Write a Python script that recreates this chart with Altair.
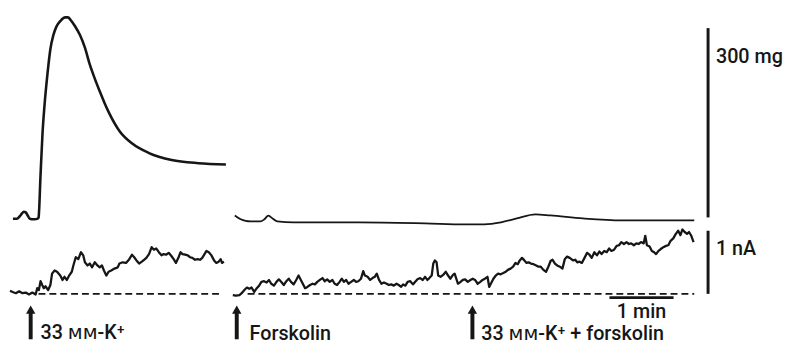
import altair as alt
import pandas as pd

INK = "#161616"
FONT = "Roboto, 'DejaVu Sans', sans-serif"
FONT_WEIGHT = 500

# time: recorder units (65 units = 1 min); tension in mg; current in nA
LEFT_TENSION = [
    (4, -2), (8, -2), (11, 2), (13, 6), (15, 9), (17, 8), (19, 3), (21, -2), (23, -3),
    (26, -3), (29, -2), (30, 0), (32, 67), (34, 133), (36, 177), (39, 227), (42, 267),
    (45, 289), (48, 302), (52, 311), (57, 317), (60, 317), (62, 314), (67, 303), (72, 289),
    (77, 269), (82, 242), (87, 220), (92, 200), (97, 181), (102, 164), (112, 137),
    (125, 117), (142, 102), (165, 91), (192, 86), (220, 84),
]
RIGHT_TENSION = [
    (229, 3), (235, -3), (240, -5.5), (245, -6.3), (255, -6.3), (259, -3), (263, 3),
    (266, 0), (272, -6.3), (289, -7.8), (322, -7.8), (355, -7.8), (422, -9.4),
    (462, -10.9), (482, -10.9), (499, -7.8), (515, -1.6), (534, 4.7), (549, 3.1),
    (582, -1.6), (622, -4.7), (695, -4.7),
]
LEFT_CURRENT = [
    (1, 0.05), (3.7, 0.03), (7, 0.01), (10.3, 0.04), (13.7, 0.01), (17, 0.02), (20.3, -0.01),
    (23.7, 0.02), (27, -0.01), (28.7, 0.09), (30.3, 0.06), (32, 0.20), (33.7, 0.14),
    (35.3, 0.09), (37, 0.12), (39.7, 0.06), (42, 0.14), (43.7, 0.32), (46.3, 0.37),
    (48.7, 0.35), (52, 0.29), (54.3, 0.22), (56.3, 0.27), (58.7, 0.22), (61, 0.29),
    (63.7, 0.35), (65.3, 0.45), (67.7, 0.58), (70.3, 0.55), (73, 0.66), (75.3, 0.61),
    (77, 0.50), (79.7, 0.45), (82, 0.48), (84.3, 0.42), (87, 0.50), (89.7, 0.45),
    (92, 0.42), (94.3, 0.45), (96.3, 0.37), (98.7, 0.29), (101, 0.35), (103.7, 0.37),
    (107, 0.40), (110.3, 0.42), (112, 0.48), (115.3, 0.50), (118.7, 0.49), (122, 0.55),
    (124.7, 0.62), (127, 0.58), (129.3, 0.53), (132, 0.48), (134.7, 0.51), (137, 0.54),
    (139.3, 0.57), (142, 0.63), (144.7, 0.74), (147, 0.70), (149.3, 0.72), (152, 0.66),
    (154.7, 0.61), (157, 0.63), (159.3, 0.62), (162, 0.65), (164.7, 0.60), (167, 0.55),
    (169.3, 0.49), (172, 0.58), (174, 0.66), (176, 0.63), (178.7, 0.62), (181.3, 0.61),
    (183.7, 0.58), (186, 0.57), (188.7, 0.54), (191.3, 0.55), (193.7, 0.54), (196, 0.57),
    (198, 0.62), (200.3, 0.68), (202.7, 0.66), (205.3, 0.61), (208, 0.53), (210.3, 0.49),
    (212.7, 0.51), (214.7, 0.55), (216, 0.49), (218, 0.51),
]
RIGHT_CURRENT = [
    (227, -0.02), (230.3, -0.03), (233.7, -0.02), (236, 0.01), (238.7, 0.06), (241.3, 0.10),
    (243.7, 0.08), (246, 0.10), (248.7, 0.03), (251.3, 0.09), (253.7, 0.13), (256, 0.19),
    (258.7, 0.20), (261.3, 0.18), (263.7, 0.22), (266, 0.16), (268.7, 0.13), (271.3, 0.19),
    (273.7, 0.23), (276, 0.19), (278.7, 0.14), (281.3, 0.20), (283.7, 0.24), (286, 0.19),
    (288.7, 0.15), (291.3, 0.22), (293.7, 0.29), (296, 0.22), (298, 0.16), (300.3, 0.09),
    (302.7, 0.11), (305.3, 0.14), (308, 0.16), (310.3, 0.15), (312.7, 0.19), (315.3, 0.22),
    (318, 0.25), (320.3, 0.20), (322.7, 0.23), (325.3, 0.19), (328, 0.22), (330.3, 0.16),
    (332.7, 0.14), (335.3, 0.19), (337.5, 0.24), (339.7, 0.19), (342, 0.22), (344.3, 0.16),
    (347, 0.19), (349.7, 0.22), (352, 0.19), (354.3, 0.20), (357, 0.24), (359.3, 0.36),
    (361, 0.29), (363.7, 0.27), (366.3, 0.22), (368.7, 0.25), (371, 0.27), (373, 0.32),
    (375.3, 0.22), (377.7, 0.16), (380.3, 0.18), (383, 0.16), (385.3, 0.14), (387.7, 0.15),
    (390.3, 0.13), (393, 0.16), (395.3, 0.14), (397.7, 0.11), (399.7, 0.15), (402, 0.13),
    (404.3, 0.19), (407, 0.20), (409.7, 0.15), (412, 0.19), (414.3, 0.23), (417, 0.25),
    (419.7, 0.22), (422, 0.27), (424.3, 0.22), (426.3, 0.25), (428.7, 0.29), (430.3, 0.48),
    (432, 0.53), (433.7, 0.50), (435.3, 0.29), (437.7, 0.27), (440.3, 0.30), (443, 0.35),
    (445.3, 0.29), (447.7, 0.24), (450.3, 0.30), (452, 0.32), (455.3, 0.16), (458, 0.19),
    (460.3, 0.22), (462.7, 0.23), (465.3, 0.19), (468, 0.22), (470.3, 0.24), (472.7, 0.22),
    (475.3, 0.16), (478, 0.19), (480.3, 0.22), (482.7, 0.24), (485.3, 0.27), (487, 0.11),
    (488.7, 0.16), (491.3, 0.24), (493.7, 0.29), (496, 0.32), (498.7, 0.31), (501.3, 0.33),
    (503.7, 0.35), (506, 0.38), (508.7, 0.40), (511.3, 0.43), (513.7, 0.49), (516, 0.47),
    (518, 0.53), (520.3, 0.57), (522.7, 0.53), (524.7, 0.49), (527, 0.50), (529.3, 0.48),
    (532, 0.47), (534.7, 0.45), (537, 0.43), (539.3, 0.43), (542, 0.38), (544.7, 0.35),
    (547, 0.43), (549.3, 0.52), (551.3, 0.54), (553.7, 0.48), (556, 0.45), (558.7, 0.43),
    (561.3, 0.40), (563.7, 0.55), (566, 0.59), (568.7, 0.57), (572, 0.53), (574.3, 0.54),
    (576.3, 0.50), (578.7, 0.51), (581, 0.49), (583.7, 0.57), (586.3, 0.65), (588.7, 0.62),
    (591, 0.57), (593.7, 0.66), (596.3, 0.61), (598.7, 0.67), (601, 0.63), (603.7, 0.68),
    (606.3, 0.66), (608.7, 0.72), (611, 0.68), (613.7, 0.70), (616.3, 0.76), (618.7, 0.77),
    (621, 0.82), (623.7, 0.79), (626.3, 0.82), (628.7, 0.79), (631, 0.80), (633.7, 0.77),
    (636.3, 0.80), (638.7, 0.79), (641, 0.82), (643.7, 0.80), (645.3, 0.92), (647, 0.77),
    (649.7, 0.75), (652, 0.68), (654.3, 0.66), (656.3, 0.63), (658.7, 0.68), (661, 0.71),
    (663.7, 0.74), (666.3, 0.76), (668.7, 0.77), (671, 0.84), (673.7, 0.88), (676.3, 0.95),
    (678.7, 1.00), (681, 0.93), (683, 1.02), (685.3, 0.98), (687.7, 0.95), (689.7, 0.98),
    (692, 0.92), (694.3, 0.82),
]
ZERO_LINES = [(30, 217), (242, 695)]          # dashed zero-current lines (start, end)
ARROW_TIMES = [22, 231, 470]
ARROW_LABELS = ["33 ᴍᴍ-K⁺", "Forskolin", "33 ᴍᴍ-K⁺ + forskolin"]
LABEL_TIMES = [32, 244, 479]
BAR_TIME = 709
TENSION_BAR = (0, 300)
CURRENT_BAR = (0, 1)
MIN_BAR = (609, 674)

X_DOMAIN = [0, 782]
TENSION_DOMAIN = [-15.625, 328.125]
CURRENT_DOMAIN = [-0.789, 1.0547]

xs = alt.Scale(domain=X_DOMAIN)
ys_t = alt.Scale(domain=TENSION_DOMAIN)
ys_c = alt.Scale(domain=CURRENT_DOMAIN)


def df(pairs, col):
    return pd.DataFrame(pairs, columns=["t", col])


def trace(pairs, col, scale, width, interp):
    return alt.Chart(df(pairs, col)).mark_line(
        color=INK, strokeWidth=width, interpolate=interp, strokeJoin="round"
    ).encode(
        x=alt.X("t:Q", scale=xs, axis=None),
        y=alt.Y(f"{col}:Q", scale=scale, axis=None),
    )


def label(frame, scale, align="left"):
    return alt.Chart(frame).mark_text(
        align=align, baseline="alphabetic", font=FONT, fontSize=20,
        fontWeight=FONT_WEIGHT, color=INK
    ).encode(
        x=alt.X("t:Q", scale=xs, axis=None),
        y=alt.Y("v:Q", scale=scale, axis=None),
        text="s:N",
    )


# ---------- top panel: tension ----------
t_bar = alt.Chart(pd.DataFrame({"t": [BAR_TIME], "a": [TENSION_BAR[0]], "b": [TENSION_BAR[1]]})).mark_rule(
    color=INK, strokeWidth=3
).encode(
    x=alt.X("t:Q", scale=xs, axis=None),
    y=alt.Y("a:Q", scale=ys_t, axis=None),
    y2="b:Q",
)
t_lab = label(pd.DataFrame({"t": [BAR_TIME + 8], "v": [245], "s": ["300 mg"]}), ys_t)
top = alt.layer(
    trace(LEFT_TENSION, "mg", ys_t, 2.6, "monotone"),
    trace(RIGHT_TENSION, "mg", ys_t, 1.8, "monotone"),
    t_bar,
    t_lab,
).properties(width=782, height=220)

# ---------- bottom panel: current ----------
zero_df = pd.DataFrame({"t": [a for a, b in ZERO_LINES], "t2": [b for a, b in ZERO_LINES], "v": [0.0] * len(ZERO_LINES)})
zero = alt.Chart(zero_df).mark_rule(color=INK, strokeWidth=1.8, strokeDash=[7, 4]).encode(
    x=alt.X("t:Q", scale=xs, axis=None),
    x2="t2:Q",
    y=alt.Y("v:Q", scale=ys_c, axis=None),
)

arrow_df = pd.DataFrame({"t": ARROW_TIMES, "a": [-0.27] * 3, "b": [-0.72] * 3, "tip": [-0.25] * 3})
shaft = alt.Chart(arrow_df).mark_rule(color=INK, strokeWidth=4).encode(
    x=alt.X("t:Q", scale=xs, axis=None),
    y=alt.Y("a:Q", scale=ys_c, axis=None),
    y2="b:Q",
)
head = alt.Chart(arrow_df).mark_point(
    shape="triangle-up", filled=True, color=INK, size=90, opacity=1
).encode(
    x=alt.X("t:Q", scale=xs, axis=None),
    y=alt.Y("tip:Q", scale=ys_c, axis=None),
)
labels = label(pd.DataFrame({"t": LABEL_TIMES, "v": [-0.71, -0.725, -0.725], "s": ARROW_LABELS}), ys_c)

min_bar = alt.Chart(pd.DataFrame({"t": [MIN_BAR[0]], "t2": [MIN_BAR[1]], "v": [-0.06]})).mark_rule(
    color=INK, strokeWidth=3
).encode(
    x=alt.X("t:Q", scale=xs, axis=None),
    x2="t2:Q",
    y=alt.Y("v:Q", scale=ys_c, axis=None),
)
min_lab = label(pd.DataFrame({"t": [(MIN_BAR[0] + MIN_BAR[1]) / 2], "v": [-0.385], "s": ["1 min"]}), ys_c, "center")
c_bar = alt.Chart(pd.DataFrame({"t": [BAR_TIME], "a": [CURRENT_BAR[0]], "b": [CURRENT_BAR[1]]})).mark_rule(
    color=INK, strokeWidth=3
).encode(
    x=alt.X("t:Q", scale=xs, axis=None),
    y=alt.Y("a:Q", scale=ys_c, axis=None),
    y2="b:Q",
)
c_lab = label(pd.DataFrame({"t": [BAR_TIME + 8], "v": [0.61], "s": ["1 nA"]}), ys_c)

bottom = alt.layer(
    zero,
    trace(LEFT_CURRENT, "nA", ys_c, 2.3, "linear"),
    trace(RIGHT_CURRENT, "nA", ys_c, 2.3, "linear"),
    shaft, head, labels, min_bar, min_lab, c_bar, c_lab,
).properties(width=782, height=118)

chart = alt.vconcat(top, bottom, spacing=0).properties(
    padding=0, background="white"
).configure_view(stroke=None)

chart.save("out.html", embed_options={"renderer": "svg", "actions": False})
